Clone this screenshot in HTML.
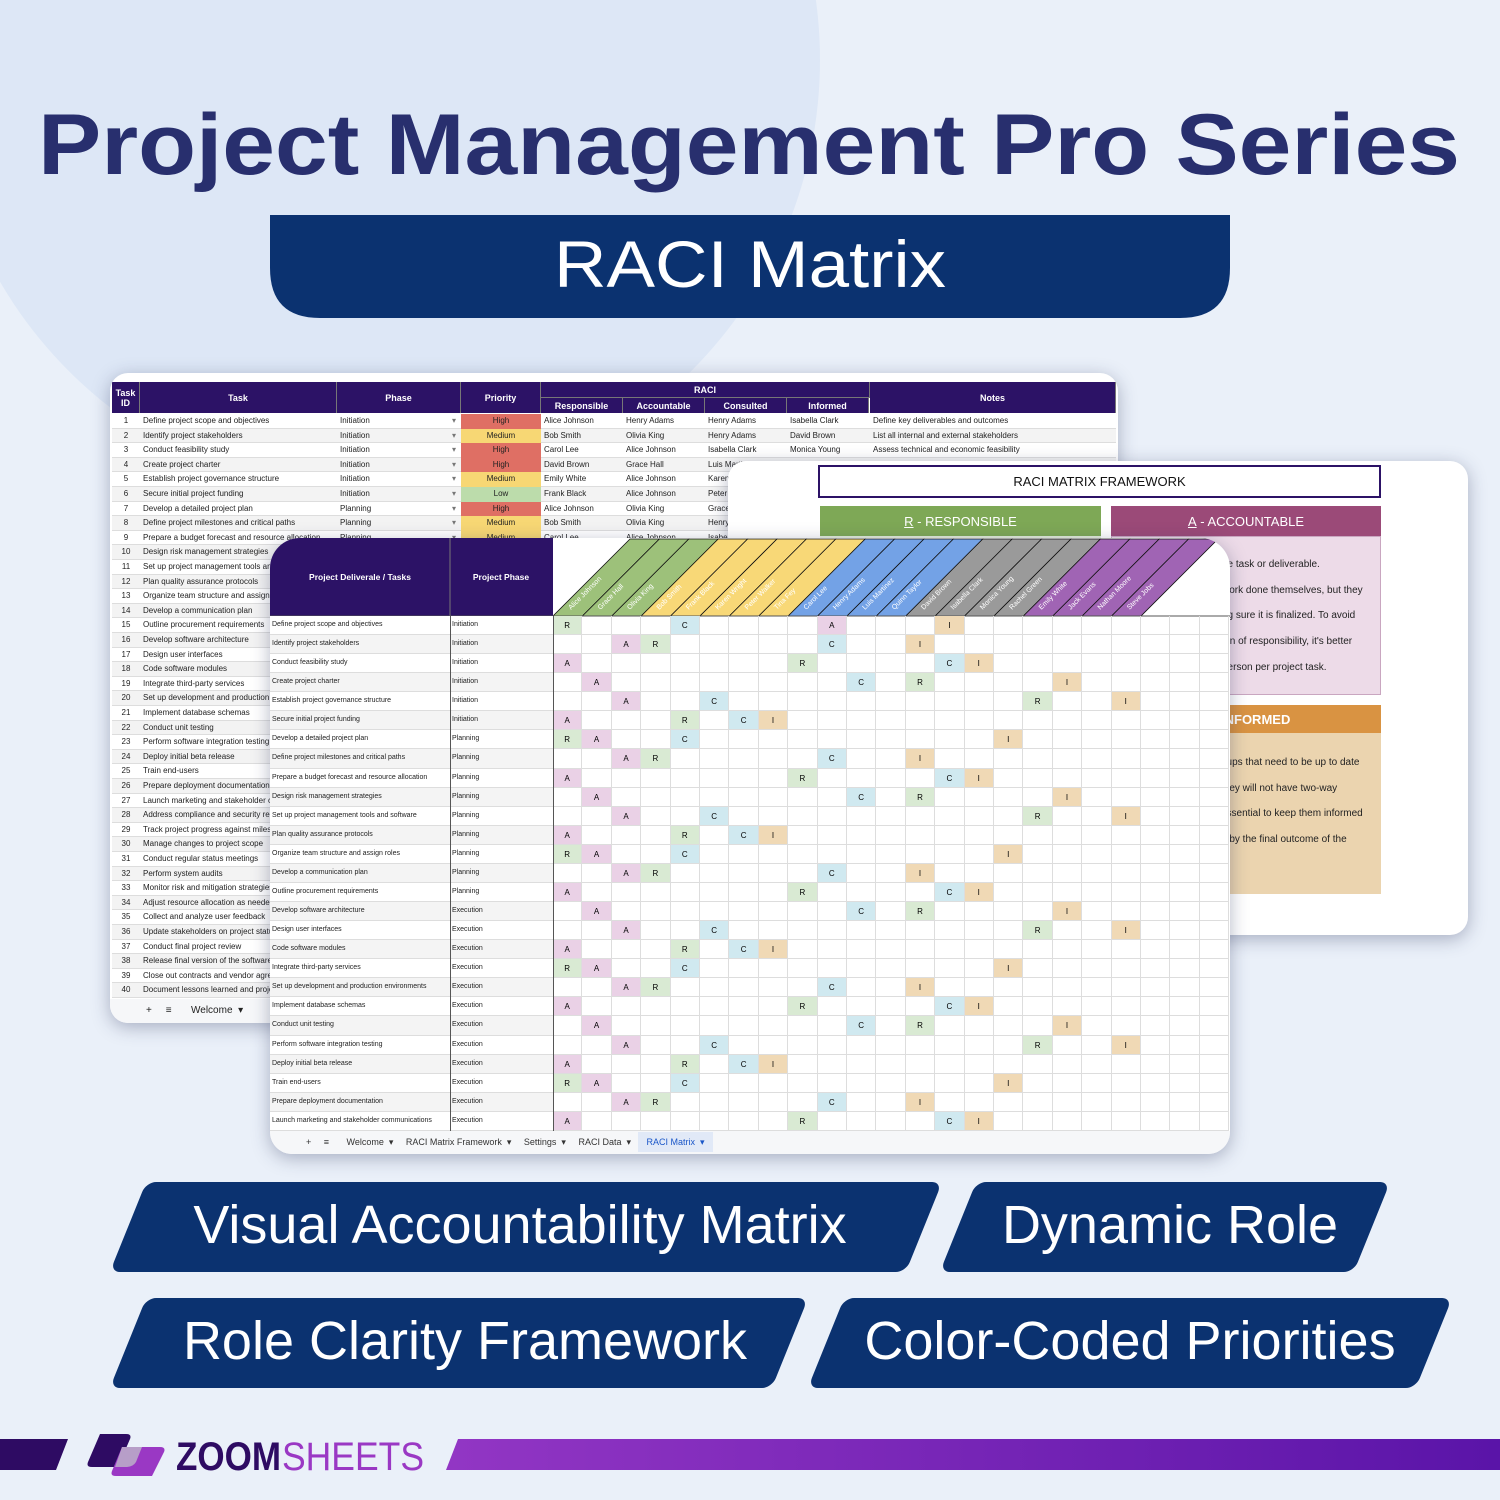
<!DOCTYPE html>
<html><head><meta charset="utf-8"><style>
*{margin:0;padding:0;box-sizing:border-box}
body{width:1500px;height:1500px;overflow:hidden;background:#eaf0f9;font-family:"Liberation Sans",sans-serif;position:relative}
.abs{position:absolute}
.sheet{position:absolute;background:#fff;overflow:hidden;box-shadow:0 4px 18px rgba(40,50,90,.35)}
.c{position:absolute;font-size:8px;color:#222;white-space:nowrap;overflow:hidden;line-height:14px}
.h{position:absolute;background:#2c1266;color:#fff;font-weight:bold;font-size:9px;display:flex;align-items:center;justify-content:center;text-align:center;border-right:1px solid #777}
.ban{position:absolute;background:#0b3270;transform:skewX(-22deg);border-radius:10px}
.bt{position:absolute;color:#fff;font-size:54px;text-align:center;white-space:nowrap}
</style></head><body>
<div class="abs" style="left:-60px;top:-380px;width:880px;height:880px;border-radius:50%;background:#dde7f6"></div>
<svg class="abs" style="left:0;top:0" width="1500" height="340">
<text x="38" y="174" textLength="1422" lengthAdjust="spacingAndGlyphs" font-family="Liberation Sans" font-weight="bold" font-size="86" fill="#282f6e">Project Management Pro Series</text>
<path d="M270 215 H1230 L1230 268 Q1230 318 1180 318 H320 Q270 318 270 268 Z" fill="#0b3270"/>
<text x="750" y="287" text-anchor="middle" textLength="392" lengthAdjust="spacingAndGlyphs" font-family="Liberation Sans" font-size="66" fill="#fff">RACI Matrix</text>
</svg>

<!-- back sheet -->
<div class="sheet" id="back" style="left:110px;top:373px;width:1008px;height:650px;border-radius:18px"></div>
<!-- framework sheet -->
<div class="sheet" id="fw" style="left:728px;top:461px;width:740px;height:474px;border-radius:18px">
 <div class="abs" style="left:90px;top:4px;width:563px;height:33px;border:2px solid #2c1266;font-size:13px;display:flex;align-items:center;justify-content:center;color:#111">RACI MATRIX FRAMEWORK</div>
 <div class="abs" style="left:92px;top:45px;width:281px;height:30px;background:#7ea856;color:#fff;font-size:13px;display:flex;align-items:center;justify-content:center"><u>R</u>&nbsp;- RESPONSIBLE</div>
 <div class="abs" style="left:92px;top:75px;width:281px;height:160px;background:#e4eedb"></div>
 <div class="abs" style="left:383px;top:45px;width:270px;height:30px;background:#9b4a78;color:#fff;font-size:13px;display:flex;align-items:center;justify-content:center"><u>A</u>&nbsp;- ACCOUNTABLE</div>
 <div class="abs" style="left:383px;top:75px;width:270px;height:159px;background:#eddbe8;border:1px solid #c9a6c0;font-size:10px;line-height:25.7px;padding:15px 0 0 110px;color:#222">he task or deliverable.<br>work done themselves, but they<br>ng sure it is finalized. To avoid<br>ion of responsibility, it's better<br>person per project task.</div>
 <div class="abs" style="left:383px;top:244px;width:270px;height:28px;background:#d99342;color:#fff;font-size:13px;font-weight:bold;padding:7px 0 0 110px">INFORMED</div>
 <div class="abs" style="left:383px;top:272px;width:270px;height:161px;background:#ebd4af;font-size:10px;line-height:25.7px;padding:17px 0 0 110px;color:#222">oups that need to be up to date<br>they will not have two-way<br>essential to keep them informed<br>d by the final outcome of the</div>
</div>
<!-- front sheet -->
<div class="sheet" id="front" style="left:270px;top:538px;width:960px;height:616px;border-radius:30px 30px 22px 22px"></div>

<!-- banners -->
<div class="ban" style="left:128px;top:1182px;width:796px;height:90px"></div>
<div class="bt" style="left:150px;top:1194px;width:740px">Visual Accountability Matrix</div>
<div class="ban" style="left:958px;top:1182px;width:414px;height:90px"></div>
<div class="bt" style="left:960px;top:1194px;width:420px">Dynamic Role</div>
<div class="ban" style="left:128px;top:1298px;width:662px;height:90px"></div>
<div class="bt" style="left:130px;top:1310px;width:670px">Role Clarity Framework</div>
<div class="ban" style="left:826px;top:1298px;width:608px;height:90px"></div>
<div class="bt" style="left:820px;top:1310px;width:620px">Color-Coded Priorities</div>

<svg class="abs" style="left:0;top:1420px" width="1500" height="70">
<defs><linearGradient id="g" x1="0" x2="1"><stop offset="0" stop-color="#9236c4"/><stop offset="1" stop-color="#5a14a8"/></linearGradient></defs>
<polygon points="0,19 68,19 56,50 0,50" fill="#2e0b63"/>
<polygon points="458,19 1500,19 1500,50 446,50" fill="url(#g)"/>
<path d="M106 17 H132 Q138 17 136 22 L124 50 H98 Q92 50 94 45 Z" fill="#2e0b63" transform="translate(-6,-3)"/>
<path d="M122 27 H160 Q166 27 164 32 L152 56 H116 Q110 56 112 51 Z" fill="#9a38c4"/>
<path d="M122 27 H142 L136 42 Q133 47 126 47 H115 Z" fill="#b79ec8"/>
<text x="176" y="50" font-family="Liberation Sans" font-weight="bold" font-size="40" fill="#2e0b63" textLength="105" lengthAdjust="spacingAndGlyphs">ZOOM</text>
<text x="282" y="50" font-family="Liberation Sans" font-size="40" fill="#9a38c4" textLength="142" lengthAdjust="spacingAndGlyphs">SHEETS</text>
</svg>

<script>
function el(p,css,html,cls){var d=document.createElement('div');d.className=cls||'c';d.style.cssText=css;if(html!=null)d.innerHTML=html;p.appendChild(d);return d;}
var backTasks=["Define project scope and objectives","Identify project stakeholders","Conduct feasibility study","Create project charter","Establish project governance structure","Secure initial project funding","Develop a detailed project plan","Define project milestones and critical paths","Prepare a budget forecast and resource allocation","Design risk management strategies","Set up project management tools and software","Plan quality assurance protocols","Organize team structure and assign roles","Develop a communication plan","Outline procurement requirements","Develop software architecture","Design user interfaces","Code software modules","Integrate third-party services","Set up development and production environments","Implement database schemas","Conduct unit testing","Perform software integration testing","Deploy initial beta release","Train end-users","Prepare deployment documentation","Launch marketing and stakeholder communications","Address compliance and security requirements","Track project progress against milestones","Manage changes to project scope","Conduct regular status meetings","Perform system audits","Monitor risk and mitigation strategies","Adjust resource allocation as needed","Collect and analyze user feedback","Update stakeholders on project status","Conduct final project review","Release final version of the software","Close out contracts and vendor agreements","Document lessons learned and project closure"];
var phases=function(i){return i<6?"Initiation":i<15?"Planning":i<27?"Execution":i<36?"Monitoring":"Closure"};
var pri=["High","Medium","High","High","Medium","Low","High","Medium","Medium"];
var priC={High:"#df6f64",Medium:"#f7d774",Low:"#bcdcab"};
var resp=["Alice Johnson","Bob Smith","Carol Lee","David Brown","Emily White","Frank Black","Alice Johnson","Bob Smith","Carol Lee"];
var acc=["Henry Adams","Olivia King","Alice Johnson","Grace Hall","Alice Johnson","Alice Johnson","Olivia King","Olivia King","Alice Johnson"];
var con=["Henry Adams","Henry Adams","Isabella Clark","Luis Martinez","Karen Wright","Peter Walker","Grace Hall","Henry Adams","Isabella Clark"];
var inf=["Isabella Clark","David Brown","Monica Young","","","","","",""];
var notes=["Define key deliverables and outcomes","List all internal and external stakeholders","Assess technical and economic feasibility"];
var B=document.getElementById('back');
// header
el(B,"left:2px;top:9px;width:28px;height:31px","Task<br>ID","h");
el(B,"left:30px;top:9px;width:197px;height:31px","Task","h");
el(B,"left:227px;top:9px;width:124px;height:31px","Phase","h");
el(B,"left:351px;top:9px;width:80px;height:31px","Priority","h");
el(B,"left:431px;top:9px;width:329px;height:16px;border-bottom:1px solid #777","RACI","h");
["Responsible","Accountable","Consulted","Informed"].forEach(function(t,i){el(B,"left:"+(431+i*82)+"px;top:25px;width:82px;height:15px",t,"h");});
el(B,"left:760px;top:9px;width:246px;height:31px","Notes","h");
for(var i=0;i<40;i++){var y=41+i*14.6;var bg=i%2?"#f3f3f3":"#fff";
 el(B,"left:2px;top:"+y+"px;width:1004px;height:14.6px;background:"+bg+";border-bottom:1px solid #ddd","", "abs");
 el(B,"left:2px;top:"+y+"px;width:28px;text-align:center",String(i+1));
 el(B,"left:33px;top:"+y+"px;width:194px",backTasks[i]);
 el(B,"left:230px;top:"+y+"px;width:120px",phases(i)+'<span style="position:absolute;right:4px;color:#777">▾</span>');
 if(i<9){var p=pri[i];el(B,"left:351px;top:"+y+"px;width:80px;height:14.6px;background:"+priC[p]+";text-align:center",p);
  el(B,"left:434px;top:"+y+"px;width:78px",resp[i]);el(B,"left:516px;top:"+y+"px;width:78px",acc[i]);el(B,"left:598px;top:"+y+"px;width:78px",con[i]);el(B,"left:680px;top:"+y+"px;width:78px",inf[i]);
  if(notes[i])el(B,"left:763px;top:"+y+"px;width:240px",notes[i]);}
}
el(B,"left:0;top:626px;width:1008px;height:24px;background:#f6f7f9;font-size:10px;line-height:24px;padding-left:36px","+ &nbsp; &nbsp; ≡ &nbsp; &nbsp; &nbsp; Welcome &nbsp;▾");

// front sheet
var F=document.getElementById('front');
var ft=["Define project scope and objectives","Identify project stakeholders","Conduct feasibility study","Create project charter","Establish project governance structure","Secure initial project funding","Develop a detailed project plan","Define project milestones and critical paths","Prepare a budget forecast and resource allocation","Design risk management strategies","Set up project management tools and software","Plan quality assurance protocols","Organize team structure and assign roles","Develop a communication plan","Outline procurement requirements","Develop software architecture","Design user interfaces","Code software modules","Integrate third-party services","Set up development and production environments","Implement database schemas","Conduct unit testing","Perform software integration testing","Deploy initial beta release","Train end-users","Prepare deployment documentation","Launch marketing and stakeholder communications"];
var names=["Alice Johnson","Grace Hall","Olivia King","Bob Smith","Frank Black","Karen Wright","Peter Walker","Tina Fey","Carol Lee","Henry Adams","Luis Martinez","Quinn Taylor","David Brown","Isabella Clark","Monica Young","Rachel Green","Emily White","Jack Evans","Nathan Moore","Steve Jobs"];
var ncol=["#9dc17a","#9dc17a","#9dc17a","#f8d877","#f8d877","#f8d877","#f8d877","#f8d877","#73a2e6","#73a2e6","#73a2e6","#73a2e6","#9a9a9a","#9a9a9a","#9a9a9a","#9a9a9a","#a064b4","#a064b4","#a064b4","#a064b4"];
var CW=29.4,X0=283,HT=77;
var s='<svg class="abs" style="left:0;top:0" width="960" height="80">';
s+='<rect x="0" y="0" width="283" height="78" fill="#2c1266"/><line x1="180" y1="0" x2="180" y2="78" stroke="#777"/>';
s+='<text x="90" y="42" text-anchor="middle" fill="#fff" font-size="8.5" font-weight="bold" font-family="Liberation Sans">Project Deliverale / Tasks</text>';
s+='<text x="231" y="42" text-anchor="middle" fill="#fff" font-size="8.5" font-weight="bold" font-family="Liberation Sans">Project Phase</text>';
for(var k=0;k<20;k++){var xb=X0+k*CW;s+='<polygon points="'+xb+',78 '+(xb+CW)+',78 '+(xb+CW+HT)+',1 '+(xb+HT)+',1" fill="'+ncol[k]+'" stroke="#111" stroke-width="0.8"/>';
 s+='<text transform="translate('+(xb+18)+',72) rotate(-45)" fill="#fff" font-size="7" font-family="Liberation Sans">'+names[k]+'</text>';}
s+='<line x1="0" y1="78" x2="960" y2="78" stroke="#555"/></svg>';
F.insertAdjacentHTML('beforeend',s);
var pats=[[[0,'R'],[4,'C'],[9,'A'],[13,'I']],
 [[2,'A'],[3,'R'],[9,'C'],[12,'I']],[[0,'A'],[8,'R'],[13,'C'],[14,'I']],[[1,'A'],[10,'C'],[12,'R'],[17,'I']],[[2,'A'],[5,'C'],[16,'R'],[19,'I']],[[0,'A'],[4,'R'],[6,'C'],[7,'I']],[[0,'R'],[1,'A'],[4,'C'],[15,'I']]];
var cc={R:"#d9ead3",A:"#ead1e6",C:"#d0e9f0",I:"#f0d9b5"};
var RH=19.07,Y0=78;
var g='';
for(var r=0;r<27;r++){var y=Y0+r*RH;
 g+='<div class="abs" style="left:0;top:'+y+'px;width:283px;height:'+RH+'px;background:'+(r%2?'#f4f4f4':'#fff')+';border-bottom:1px solid #ddd"></div>';
 g+='<div class="c" style="left:2px;top:'+(y+2)+'px;width:178px;font-size:7px">'+ft[r]+'</div>';
 g+='<div class="c" style="left:182px;top:'+(y+2)+'px;width:100px;font-size:7px">'+phases(r)+'</div>';
 var p=r==0?pats[0]:pats[1+((r-1)%6)];
 for(var c=0;c<23;c++){var v='';for(var q=0;q<p.length;q++)if(p[q][0]==c)v=p[q][1];
  g+='<div class="abs" style="left:'+(X0+c*CW)+'px;top:'+y+'px;width:'+CW+'px;height:'+RH+'px;border:1px solid #ddd;border-width:0 1px 1px 0;'+(v?'background:'+cc[v]+';':'')+'font-size:8px;text-align:center;line-height:'+RH+'px">'+v+'</div>';}
}
g+='<div class="abs" style="left:180px;top:78px;width:1px;height:515px;background:#555"></div>';
g+='<div class="abs" style="left:283px;top:78px;width:1px;height:515px;background:#555"></div>';
g+='<div class="abs" style="left:0;top:593px;width:960px;height:23px;background:#f6f7f9;font-size:9px;line-height:23px;color:#333;padding-left:36px;white-space:nowrap">+ &nbsp; &nbsp; ≡ &nbsp; &nbsp; &nbsp; Welcome &nbsp;▾ &nbsp; &nbsp; RACI Matrix Framework &nbsp;▾ &nbsp; &nbsp; Settings &nbsp;▾ &nbsp; &nbsp; RACI Data &nbsp;▾ &nbsp; <span style="background:#e1e9f7;color:#1a56c8;padding:5px 8px">RACI Matrix &nbsp;▾</span></div>';
F.insertAdjacentHTML('beforeend',g);
</script>
</body></html>
